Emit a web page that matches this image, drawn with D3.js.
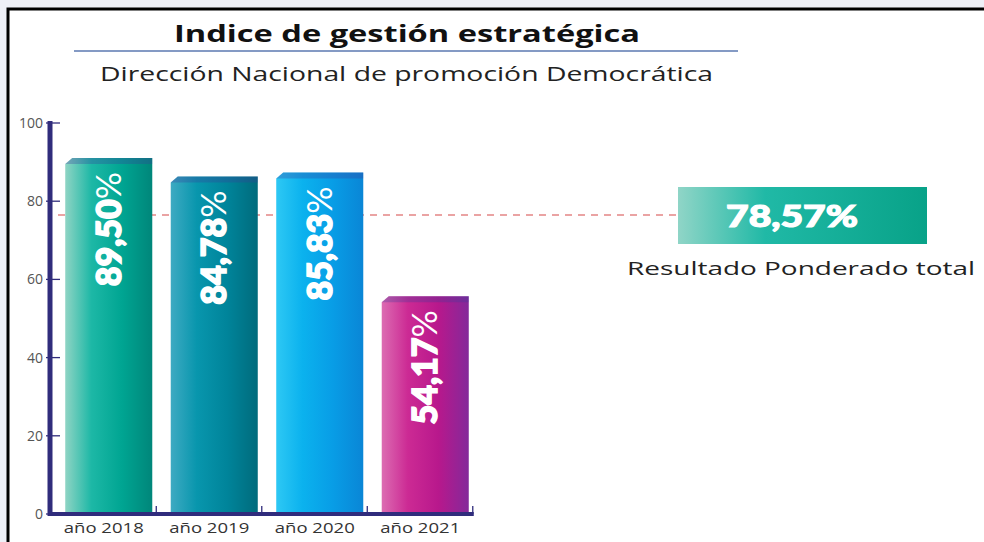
<!DOCTYPE html>
<html><head><meta charset="utf-8">
<script src="https://cdn.jsdelivr.net/npm/d3@7"></script>
<style>
html,body{margin:0;padding:0;background:#eef0f7;}
svg{display:block;}
</style></head>
<body>
<svg id="chart" width="984" height="542"></svg>
<script>
// ---- data ----
const categories = ["año 2018", "año 2019", "año 2020", "año 2021"];
const values = [89.50, 84.78, 85.83, 54.17];
const valueLabels = ["89,50", "84,78", "85,83", "54,17"];
const yTicks = [0, 20, 40, 60, 80, 100];
const totalLabel = "78,57%";
const totalCaption = "Resultado Ponderado total";
const avgLineValue = 76.5; // position of dashed reference line
const title = "Indice de gestión estratégica";
const subtitle = "Dirección Nacional de promoción Democrática";
const barColors = [
  ["#8fd4c4", "#1db8a6", "#00a592", "#00867a"],
  ["#3eaac2", "#0896ad", "#00849a", "#006b7c"],
  ["#2ec8f4", "#0bb2ee", "#089de6", "#0a86d6"],
  ["#dc6cb2", "#cc2a94", "#b8188c", "#84299a"]
];

const svg = d3.select("#chart");
const defs = svg.append("defs");

// frame
svg.append("rect").attr("x", 8).attr("y", 9).attr("width", 990).attr("height", 560)
  .attr("fill", "#fff").attr("stroke", "#000").attr("stroke-width", 3);

const y = d3.scaleLinear().domain([0, 100]).range([514, 123]);
const x = d3.scaleBand().domain(categories).range([56, 478]).paddingInner(0.175).paddingOuter(0.0875);

// gradients
categories.forEach((c, i) => {
  const g = defs.append("linearGradient").attr("id", "g" + i).attr("x1", "0").attr("x2", "1").attr("y1", "0").attr("y2", "0");
  const st = [0, 0.3, 0.65, 1];
  barColors[i].forEach((col, k) => g.append("stop").attr("offset", st[k]).attr("stop-color", col));
});
const bg = defs.append("linearGradient").attr("id", "boxg").attr("x1", "0").attr("x2", "1");
bg.append("stop").attr("offset", 0).attr("stop-color", "#90d5c7");
bg.append("stop").attr("offset", 0.35).attr("stop-color", "#20b9a6");
bg.append("stop").attr("offset", 1).attr("stop-color", "#08a288");

// title
svg.append("text").attr("x", 174).attr("y", 42).attr("textLength", 466).attr("lengthAdjust", "spacingAndGlyphs")
  .attr("font-family", "Open Sans, sans-serif").attr("font-weight", 700).attr("font-size", 24).attr("fill", "#111")
  .text(title);
svg.append("line").attr("x1", 74).attr("x2", 738).attr("y1", 51).attr("y2", 51)
  .attr("stroke", "#5b78b0").attr("stroke-width", 1.5);
svg.append("text").attr("x", 100).attr("y", 81).attr("textLength", 613).attr("lengthAdjust", "spacingAndGlyphs")
  .attr("font-family", "Open Sans, sans-serif").attr("font-size", 20).attr("fill", "#222")
  .text(subtitle);

// dashed reference line
svg.append("line").attr("x1", 58).attr("x2", 678).attr("y1", y(avgLineValue)).attr("y2", y(avgLineValue))
  .attr("stroke", "#e38585").attr("stroke-width", 1.5).attr("stroke-dasharray", "7,6");

// bars
const bw = x.bandwidth();
const bars = svg.append("g").selectAll("g").data(values).join("g");
bars.append("path")
  .attr("d", (d, i) => {
    const x0 = x(categories[i]), yt = y(d) - 6;
    return `M${x0},${y(0)} L${x0},${yt + 6} L${x0 + 7},${yt} L${x0 + bw},${yt} L${x0 + bw},${y(0)} Z`;
  })
  .attr("fill", (d, i) => `url(#g${i})`);
bars.append("path")
  .attr("d", (d, i) => {
    const x0 = x(categories[i]), yt = y(d) - 6;
    return `M${x0},${yt + 6} L${x0 + 7},${yt} L${x0 + bw},${yt} L${x0 + bw},${yt + 6} Z`;
  })
  .attr("fill", "#3a3a9a").attr("opacity", 0.3);

// value labels inside bars (rotated)
bars.append("text")
  .attr("transform", (d, i) => `translate(${x(categories[i]) + bw / 2 + 12},${y(d) + 8}) rotate(-90)`)
  .attr("text-anchor", "end")
  .attr("font-family", "Lato, sans-serif").attr("font-weight", 900).attr("font-size", 34).attr("fill", "#fff")
  .each(function (d, i) {
    const t = d3.select(this);
    t.append("tspan").attr("stroke", "#fff").attr("stroke-width", 1.6).text(valueLabels[i]);
    t.append("tspan").attr("font-weight", 400).text("%");
  });

// y axis
const yAxis = svg.append("g");
yAxis.append("line").attr("x1", 50).attr("x2", 50).attr("y1", y(100) - 2).attr("y2", y(0) + 2)
  .attr("stroke", "#302c7c").attr("stroke-width", 5);
yAxis.selectAll(".tk").data(yTicks).join("line")
  .attr("x1", 46).attr("x2", 60).attr("y1", d => y(d)).attr("y2", d => y(d))
  .attr("stroke", "#302c7c").attr("stroke-width", 1.3);
yAxis.selectAll(".tl").data(yTicks).join("text")
  .attr("x", 43).attr("y", d => y(d) + 5).attr("text-anchor", "end")
  .attr("font-family", "Open Sans, sans-serif").attr("font-size", 14).attr("fill", "#555")
  .text(d => d);

// x axis
const xAxis = svg.append("g");
xAxis.append("line").attr("x1", 48).attr("x2", x(categories[3]) + bw + 5).attr("y1", y(0)).attr("y2", y(0))
  .attr("stroke", "#302c7c").attr("stroke-width", 4);
xAxis.selectAll(".xt").data(categories).join("line")
  .attr("x1", d => x(d) + bw + 4).attr("x2", d => x(d) + bw + 4)
  .attr("y1", y(0)).attr("y2", y(0) - 8)
  .attr("stroke", "#302c7c").attr("stroke-width", 1.3);
xAxis.selectAll(".xl").data(categories).join("text")
  .attr("x", d => x(d) + bw / 2 - 45).attr("y", 533)
  .attr("textLength", 80).attr("lengthAdjust", "spacingAndGlyphs")
  .attr("font-family", "Open Sans, sans-serif").attr("font-size", 15).attr("fill", "#333")
  .text(d => d);

// total box
svg.append("rect").attr("x", 678).attr("y", 187).attr("width", 249).attr("height", 57).attr("fill", "url(#boxg)");
svg.append("text").attr("x", 726).attr("y", 227)
  .attr("textLength", 132).attr("lengthAdjust", "spacingAndGlyphs")
  .attr("font-family", "Lato, sans-serif").attr("font-weight", 900).attr("font-size", 31).attr("fill", "#fff")
  .attr("stroke", "#fff").attr("stroke-width", 1.2)
  .text(totalLabel);
svg.append("text").attr("x", 627).attr("y", 275).attr("textLength", 348).attr("lengthAdjust", "spacingAndGlyphs")
  .attr("font-family", "Open Sans, sans-serif").attr("font-size", 19).attr("fill", "#222")
  .text(totalCaption);
</script>
</body></html>
